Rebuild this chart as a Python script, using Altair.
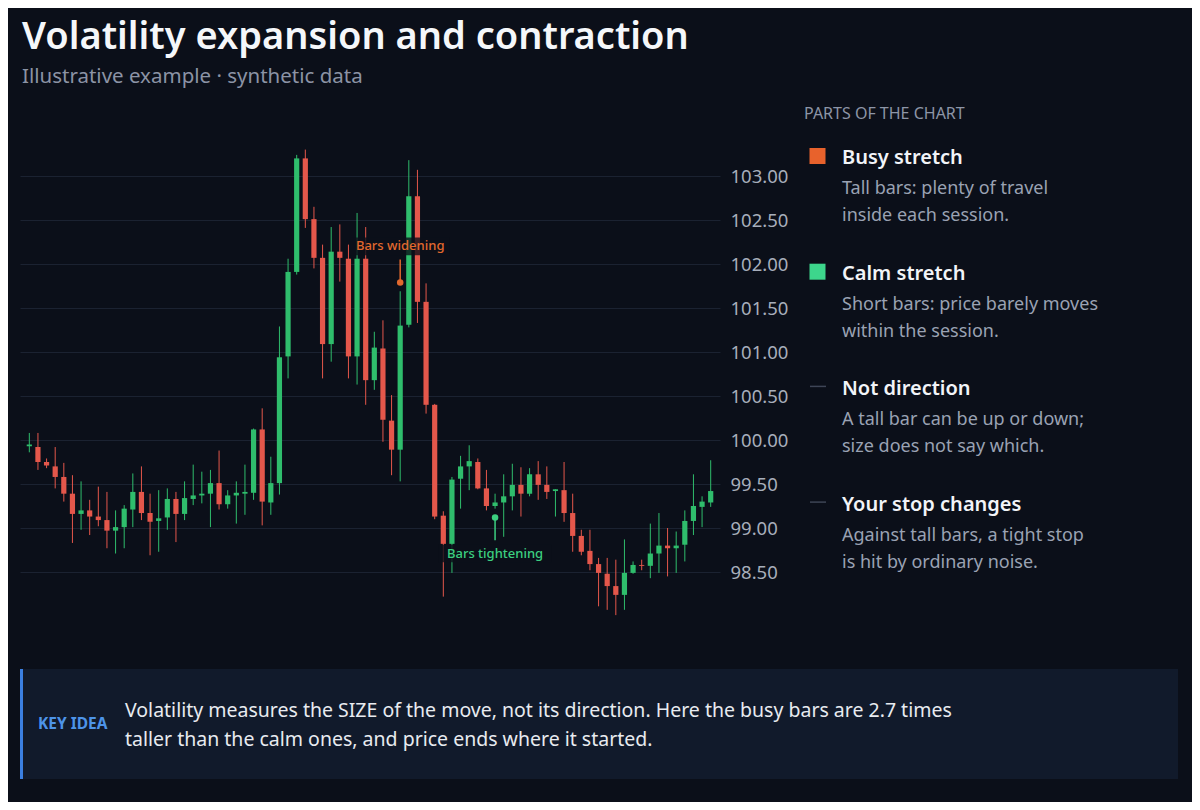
import pandas as pd
import altair as alt

FONT = "Noto Sans"
BG = "#0b0f19"
UP = "#2fbd6c"
DOWN = "#e4574b"
BUSY = "#e8622c"
CALM = "#3dd68c"
MUTED = "#9aa2b3"

# one candle per session
opens = [99.93, 99.92, 99.75, 99.70, 99.58, 99.39, 99.16, 99.20, 99.13, 99.09,
         98.97, 99.01, 99.21, 99.41, 99.17, 99.08, 99.12, 99.33, 99.16, 99.33,
         99.37, 99.39, 99.51, 99.27, 99.37, 99.39, 99.40, 100.12, 99.29, 99.51,
         100.95, 101.91, 103.20, 102.51, 102.07, 101.09, 102.14, 102.06, 100.95, 102.06,
         100.68, 101.04, 100.22, 99.89, 101.31, 102.77, 101.57, 100.40, 99.14, 98.82,
         99.56, 99.70, 99.75, 99.45, 99.25, 99.29, 99.36, 99.49, 99.39, 99.61,
         99.49, 99.42, 99.43, 99.17, 98.91, 98.74, 98.59, 98.48, 98.34, 98.24,
         98.49, 98.58, 98.57, 98.71, 98.80, 98.77, 98.81, 99.08, 99.24, 99.29]
highs = [100.08, 100.08, 99.79, 99.92, 99.74, 99.60, 99.53, 99.32, 99.47, 99.41,
         99.20, 99.26, 99.62, 99.70, 99.39, 99.43, 99.45, 99.41, 99.53, 99.72,
         99.64, 99.66, 99.88, 99.43, 99.53, 99.72, 100.13, 100.36, 99.81, 101.29,
         102.06, 103.24, 103.30, 102.65, 102.22, 102.42, 102.45, 102.22, 102.58, 102.42,
         101.23, 101.36, 100.51, 101.69, 103.18, 103.07, 101.78, 100.41, 99.19, 99.58,
         99.82, 99.94, 99.79, 99.66, 99.39, 99.61, 99.73, 99.69, 99.68, 99.76,
         99.70, 99.44, 99.75, 99.39, 98.98, 98.98, 98.66, 98.66, 98.64, 98.87,
         98.62, 98.64, 99.05, 99.17, 99.00, 98.96, 99.20, 99.61, 99.36, 99.77]
lows = [99.86, 99.66, 99.68, 99.45, 99.30, 98.83, 98.98, 98.92, 99.02, 98.77,
        98.71, 98.77, 99.01, 99.09, 98.69, 98.73, 98.98, 98.84, 99.09, 99.26,
        99.28, 99.01, 99.21, 99.22, 99.05, 99.15, 99.32, 99.03, 99.15, 99.38,
        100.70, 101.88, 102.41, 101.95, 100.70, 100.89, 101.80, 100.70, 100.63, 100.40,
        100.57, 99.98, 99.60, 99.53, 101.28, 101.33, 100.30, 99.10, 98.22, 98.49,
        99.22, 99.43, 99.44, 99.20, 99.22, 98.90, 99.20, 99.13, 99.36, 99.32,
        99.33, 99.13, 99.07, 98.73, 98.69, 98.52, 98.11, 98.07, 98.01, 98.07,
        98.48, 98.52, 98.43, 98.49, 98.45, 98.49, 98.62, 98.92, 99.01, 99.24]
closes = [99.95, 99.75, 99.71, 99.58, 99.39, 99.16, 99.20, 99.13, 99.09, 98.97,
          99.01, 99.22, 99.41, 99.17, 99.07, 99.11, 99.33, 99.16, 99.34, 99.37,
          99.39, 99.51, 99.27, 99.37, 99.40, 99.41, 100.12, 99.30, 99.51, 100.94,
          101.91, 103.20, 102.51, 102.07, 101.09, 102.14, 102.07, 100.95, 102.06, 100.68,
          101.05, 100.23, 99.89, 101.30, 102.77, 101.57, 100.40, 99.13, 98.82, 99.55,
          99.70, 99.76, 99.45, 99.25, 99.29, 99.36, 99.49, 99.39, 99.61, 99.49,
          99.41, 99.44, 99.17, 98.91, 98.73, 98.59, 98.49, 98.34, 98.24, 98.49,
          98.58, 98.57, 98.71, 98.80, 98.77, 98.80, 99.08, 99.25, 99.30, 99.42]

y_ticks = [98.5, 99.0, 99.5, 100.0, 100.5, 101.0, 101.5, 102.0, 102.5, 103.0]

ann_labels = ["Bars widening", "Bars tightening"]
ann_session = [43, 54]
ann_price = [101.79, 99.12]
ann_line_end = [102.05, 98.86]
ann_label_price = [102.20, 98.71]
ann_colors = ["#e2692e", "#3ccf80"]

title = "Volatility expansion and contraction"
subtitle = "Illustrative example · synthetic data"
legend_header = "PARTS OF THE CHART"
legend_titles = ["Busy stretch", "Calm stretch", "Not direction", "Your stop changes"]
legend_lines = [
    ["Tall bars: plenty of travel", "inside each session."],
    ["Short bars: price barely moves", "within the session."],
    ["A tall bar can be up or down;", "size does not say which."],
    ["Against tall bars, a tight stop", "is hit by ordinary noise."],
]
legend_swatch = [BUSY, CALM, None, None]
key_label = "KEY IDEA"
key_lines = [
    "Volatility measures the SIZE of the move, not its direction. Here the busy bars are 2.7 times",
    "taller than the calm ones, and price ends where it started.",
]

candles = pd.DataFrame({
    "session": range(len(opens)),
    "open": opens, "high": highs, "low": lows, "close": closes,
})
candles["color"] = [UP if c >= o else DOWN for o, c in zip(opens, closes)]

ann = pd.DataFrame({
    "session": ann_session, "price": ann_price, "line_end": ann_line_end,
    "label_price": ann_label_price, "label": ann_labels, "color": ann_colors,
})
ann["box_l"] = ann["session"] - (ann["label"].str.len() * 0.42 + 0.3)
ann["box_r"] = ann["session"] + (ann["label"].str.len() * 0.42 + 0.3)
ann["box_lo"] = ann["label_price"] - 0.1
ann["box_hi"] = ann["label_price"] + 0.1

x_scale = alt.Scale(domain=[-0.5, 79.5], nice=False, zero=False)
y_scale = alt.Scale(domain=[97.5, 103.5], nice=False, zero=False)
y_axis = alt.Axis(
    orient="right", values=y_ticks, format=".2f", title=None,
    labelFont=FONT, labelFontSize=18.5, labelColor="#a7aebb",
    labelPadding=10, labelAlign="left", ticks=False, domain=False,
    gridColor="#1b2231",
)


def px(field):
    return alt.X(field, scale=x_scale, axis=None)


def py(field):
    return alt.Y(field, scale=y_scale, axis=y_axis)


def text_layer(text, x, y, size, color, weight="normal"):
    return (
        alt.Chart(pd.DataFrame({"t": [text]}))
        .mark_text(align="left", baseline="middle", font=FONT,
                   fontSize=size, fontWeight=weight, color=color)
        .encode(text="t:N", x=alt.value(x), y=alt.value(y))
    )


wicks = (
    alt.Chart(candles)
    .mark_rule(strokeWidth=1)
    .encode(x=px("session:Q"), y=py("low:Q"), y2="high:Q",
            color=alt.Color("color:N", scale=None))
)

bodies = (
    alt.Chart(candles)
    .mark_bar(size=5.2)
    .encode(x=px("session:Q"), y=py("open:Q"), y2="close:Q",
            color=alt.Color("color:N", scale=None))
)

ann_box = (
    alt.Chart(ann)
    .mark_rect(color=BG, opacity=0.8)
    .encode(x=px("box_l:Q"), x2="box_r:Q", y=py("box_lo:Q"), y2="box_hi:Q")
)
ann_line = (
    alt.Chart(ann)
    .mark_rule(strokeWidth=1.5)
    .encode(x=px("session:Q"), y=py("price:Q"), y2="line_end:Q",
            color=alt.Color("color:N", scale=None))
)
ann_dot = (
    alt.Chart(ann)
    .mark_circle(size=42, opacity=1)
    .encode(x=px("session:Q"), y=py("price:Q"),
            color=alt.Color("color:N", scale=None))
)
ann_text = (
    alt.Chart(ann)
    .mark_text(font=FONT, fontSize=13, fontWeight=500, baseline="middle")
    .encode(x=px("session:Q"), y=py("label_price:Q"), text="label:N",
            color=alt.Color("color:N", scale=None))
)

# text and panels around the plot, placed relative to the plot's top-left corner
extras = [
    text_layer(title, 2, -94, 38, "#f5f7fa", 600),
    text_layer(subtitle, 2, -55, 20.5, "#8b93a5"),
    text_layer(legend_header, 784, -18, 16, "#8d95a7"),
]
for k, name in enumerate(legend_titles):
    top = 26 + k * 115.7
    if legend_swatch[k]:
        extras.append(
            alt.Chart(pd.DataFrame({"t": [name]}))
            .mark_square(size=256, opacity=1, color=legend_swatch[k])
            .encode(x=alt.value(797.5), y=alt.value(top - 2))
        )
    else:
        extras.append(
            alt.Chart(pd.DataFrame({"t": [name]}))
            .mark_rule(strokeWidth=1.5, color="#3e4556")
            .encode(x=alt.value(790), x2=alt.value(806), y=alt.value(top - 3))
        )
    extras.append(text_layer(name, 822, top, 20, "#f2f4f8", 600))
    for j, line in enumerate(legend_lines[k]):
        extras.append(text_layer(line, 822, top + 31 + j * 27, 18, MUTED))

box = pd.DataFrame({"t": [key_label]})
extras.append(
    alt.Chart(box).mark_rect(color="#111a2b")
    .encode(x=alt.value(0), x2=alt.value(1158), y=alt.value(537), y2=alt.value(647))
)
extras.append(
    alt.Chart(box).mark_rect(color="#3b7fe0")
    .encode(x=alt.value(0), x2=alt.value(3), y=alt.value(537), y2=alt.value(647))
)
extras.append(text_layer(key_label, 18, 592, 15.5, "#4d94e8", 700))
for j, line in enumerate(key_lines):
    extras.append(text_layer(line, 105, 579 + j * 29, 19.5, "#e8ebf0"))

chart = (
    alt.layer(wicks, bodies, ann_box, ann_line, ann_dot, ann_text, *extras)
    .properties(
        width=700, height=528,
        autosize=alt.AutoSizeParams(type="none"),
        padding={"left": 12, "top": 124, "right": 472, "bottom": 142},
    )
    .configure(background=BG)
    .configure_view(stroke=None)
)

chart.save("out.html", embed_options={"renderer": "svg", "actions": False})
